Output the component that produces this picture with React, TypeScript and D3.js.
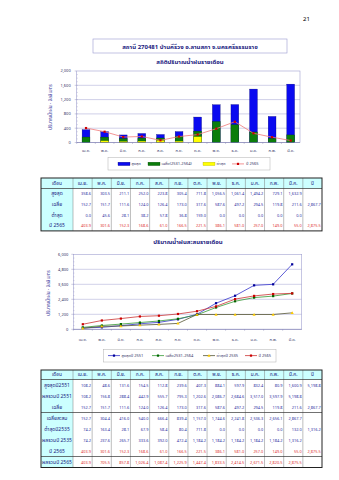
import React from 'react';
import * as d3 from 'd3';

const months = ['เม.ย.', 'พ.ค.', 'มิ.ย.', 'ก.ค.', 'ส.ค.', 'ก.ย.', 'ต.ค.', 'พ.ย.', 'ธ.ค.', 'ม.ค.', 'ก.พ.', 'มี.ค.'];

const maxRain = [358.6, 303.5, 211.1, 252.0, 223.8, 305.4, 711.8, 1056.5, 1061.4, 1494.2, 729.1, 1632.9];
const avgRain = [152.7, 151.7, 111.6, 124.0, 126.4, 173.0, 317.6, 587.6, 497.2, 294.5, 119.8, 211.6];
const minRain = [0.0, 45.6, 28.1, 38.2, 57.8, 36.8, 159.0, 0.0, 0.0, 0.0, 0.0, 0.0];
const rain2565 = [403.9, 301.6, 152.3, 168.6, 61.0, 166.5, 221.5, 386.1, 581.0, 257.0, 149.0, 55.0];
const avgTotal = 2867.7;
const total2565 = 2875.5;

const max2551 = [108.2, 48.6, 131.6, 154.5, 112.8, 239.6, 407.3, 884.1, 597.9, 832.4, 80.9, 1600.9];
const total2551 = 5198.8;
const cum2551 = [108.2, 156.8, 288.4, 442.9, 555.7, 795.3, 1202.6, 2086.7, 2684.6, 3517.0, 3597.9, 5198.8];
const cumAvg = [152.7, 304.4, 416.0, 540.0, 666.4, 839.4, 1157.0, 1744.6, 2241.8, 2536.3, 2656.1, 2867.7];
const min2535 = [74.2, 163.4, 28.1, 67.9, 58.4, 80.4, 711.8, 0.0, 0.0, 0.0, 0.0, 132.0];
const total2535 = 1316.2;
const cum2535 = [74.2, 237.6, 265.7, 333.6, 392.0, 472.4, 1184.2, 1184.2, 1184.2, 1184.2, 1184.2, 1316.2];
const cum2565 = [403.9, 705.5, 857.8, 1026.4, 1087.4, 1225.9, 1447.4, 1833.5, 2414.5, 2671.5, 2820.5, 2875.5];

const yTicks1 = [0, 400, 800, 1200, 1600, 2000];
const yTicks2 = [0, 1200, 2400, 3600, 4800, 6000];

const FONT = "Tahoma, 'Noto Sans Thai', 'Noto Serif Thai', 'Garuda', 'Loma', serif";
const NAVY = '#1a1a80';
const GRID = '#a0a0d0';
const fmt = d3.format(',.1f');

const tableHeader = ['เดือน', ...months, 'ปี'];

type Row = { label: string; values: number[]; total: number | null; color: string };

function Table({ top, headerH, rowH, rows, sepAfter }: { top: number; headerH: number; rowH: number; rows: Row[]; sepAfter: number[] }) {
  const left = 41, right = 322, labelW = 32;
  const colW = (right - left - labelW) / 13;
  const bottom = top + headerH + rowH * rows.length;
  const colX = (i: number) => left + labelW + i * colW;
  return (
    <g fontFamily={FONT}>
      <rect x={left} y={top} width={right - left} height={headerH} fill="#ccffff" />
      <rect x={left} y={top} width={labelW} height={bottom - top} fill="#ccffff" />
      {tableHeader.map((h, i) => (
        <text key={'h' + i} x={i === 0 ? left + labelW / 2 : colX(i - 1) + colW / 2} y={top + headerH / 2 + 1.6}
          textAnchor="middle" fontSize={4.8} fill={NAVY}>{h}</text>
      ))}
      {rows.map((r, ri) => {
        const cy = top + headerH + ri * rowH + rowH / 2 + 1.5;
        return (
          <g key={'r' + ri}>
            <text x={left + labelW / 2} y={cy} textAnchor="middle" fontSize={5} fill={NAVY}>{r.label}</text>
            {r.values.map((v, ci) => (
              <text key={ci} x={colX(ci) + colW - 1.2} y={cy} textAnchor="end" fontSize={3.9} fill={r.color}>{fmt(v)}</text>
            ))}
            {r.total !== null && (
              <text x={colX(12) + colW - 1.2} y={cy} textAnchor="end" fontSize={3.9} fill={r.color}>{fmt(r.total)}</text>
            )}
          </g>
        );
      })}
      {d3.range(1, 14).map(i => {
        const x = i === 0 ? left : colX(i - 1);
        return <line key={'v' + i} x1={x} x2={x} y1={top} y2={bottom} stroke="#7a7a7a" strokeWidth={0.5} />;
      })}
      <line x1={left} x2={right} y1={top + headerH} y2={top + headerH} stroke="#333" strokeWidth={0.7} />
      {sepAfter.map(k => {
        const y = top + headerH + (k + 1) * rowH;
        return <line key={'s' + k} x1={left} x2={right} y1={y} y2={y} stroke="#333" strokeWidth={0.7} />;
      })}
      <rect x={left} y={top} width={right - left} height={bottom - top} fill="none" stroke="#222" strokeWidth={1} />
    </g>
  );
}

export default function App() {
  // Chart 1
  const c1 = { l: 76.7, r: 300, t: 71, b: 142.5 };
  const x1 = d3.scaleBand<string>().domain(months).range([c1.l, c1.r]);
  const y1 = d3.scaleLinear().domain([0, 2000]).range([c1.b, c1.t]);
  const bw = x1.bandwidth() * 0.42;
  const cx1 = (m: string) => (x1(m) as number) + x1.bandwidth() / 2;
  const line1 = d3.line<number>().x((_, i) => cx1(months[i])).y(d => y1(d));

  // Chart 2
  const c2 = { l: 73.3, r: 301.7, t: 254.3, b: 329.3 };
  const x2 = d3.scalePoint<string>().domain(months).range([c2.l, c2.r]).padding(0.5);
  const y2 = d3.scaleLinear().domain([0, 6000]).range([c2.b, c2.t]);
  const line2 = d3.line<number>().x((_, i) => x2(months[i]) as number).y(d => y2(d));

  const series2 = [
    { data: cum2551, stroke: '#3333cc', mark: '#000099', shape: 'sq' },
    { data: cumAvg, stroke: '#339933', mark: '#006600', shape: 'sq' },
    { data: cum2535, stroke: '#555533', mark: '#ffcc00', shape: 'tri' },
    { data: cum2565, stroke: '#cc3333', mark: '#cc0000', shape: 'sq' },
  ];

  const marker = (shape: string, x: number, y: number, fill: string, s = 2.4, key?: any) =>
    shape === 'tri'
      ? <path key={key} d={`M${x},${y - 1.6}L${x + 1.6},${y + 1.2}L${x - 1.6},${y + 1.2}Z`} fill={fill} />
      : <rect key={key} x={x - s / 2} y={y - s / 2} width={s} height={s} fill={fill} />;

  const table1Rows: Row[] = [
    { label: 'สูงสุด', values: maxRain, total: null, color: '#2a2aa0' },
    { label: 'เฉลี่ย', values: avgRain, total: avgTotal, color: '#2a2aa0' },
    { label: 'ต่ำสุด', values: minRain, total: null, color: '#2a2aa0' },
    { label: 'ปี 2565', values: rain2565, total: total2565, color: '#e03030' },
  ];
  const table2Rows: Row[] = [
    { label: 'สูงสุดปี2551', values: max2551, total: total2551, color: '#2a2aa0' },
    { label: 'ผลรวมปี 2551', values: cum2551, total: null, color: '#2a2aa0' },
    { label: 'เฉลี่ย', values: avgRain, total: avgTotal, color: '#2a2aa0' },
    { label: 'เฉลี่ยสะสม', values: cumAvg, total: null, color: '#2a2aa0' },
    { label: 'ต่ำสุดปี2535', values: min2535, total: total2535, color: '#2a2aa0' },
    { label: 'ผลรวมปี 2535', values: cum2535, total: null, color: '#2a2aa0' },
    { label: 'ปี 2565', values: rain2565, total: total2565, color: '#e03030' },
    { label: 'ผลรวมปี 2565', values: cum2565, total: null, color: '#e03030' },
  ];

  return (
    <svg width={339} height={480} style={{ position: 'absolute', left: 0, top: 0, background: '#fff' }} fontFamily={FONT}>
      <rect width={339} height={480} fill="#fff" />
      <text x={303} y={21} fontSize={6} fill="#000">21</text>

      {/* Title box */}
      <rect x={93} y={39} width={194} height={14} fill="#fff" stroke="#9a9ad0" strokeWidth={0.6} />
      <text x={190} y={48.5} textAnchor="middle" fontSize={6} fontWeight="bold" fill={NAVY}>สถานี 270481 บ้านคีรีวง อ.ลานสกา จ.นครศรีธรรมราช</text>
      <text x={190} y={64} textAnchor="middle" fontSize={6} fontWeight="bold" fill={NAVY}>สถิติปริมาณน้ำฝนรายเดือน</text>

      {/* Chart 1 */}
      <rect x={c1.l} y={c1.t} width={c1.r - c1.l} height={c1.b - c1.t} fill="#fff" stroke={GRID} strokeWidth={0.6} />
      {yTicks1.slice(1, -1).map(t => (
        <line key={t} x1={c1.l} x2={c1.r} y1={y1(t)} y2={y1(t)} stroke={GRID} strokeWidth={0.5} />
      ))}
      {yTicks1.map(t => (
        <g key={'yt' + t}>
          <line x1={c1.l - 2} x2={c1.l} y1={y1(t)} y2={y1(t)} stroke="#8080b0" strokeWidth={0.4} />
          <text x={c1.l - 6} y={y1(t) + 1.4} textAnchor="end" fontSize={4} fill="#333366">{d3.format(',')(t)}</text>
        </g>
      ))}
      {d3.range(0, 2000, 100).map(t => (
        <line key={'mt' + t} x1={c1.l} x2={c1.l + 1.2} y1={y1(t)} y2={y1(t)} stroke="#8080b0" strokeWidth={0.3} />
      ))}
      {months.map((m, i) => (
        <g key={'b' + m}>
          <rect x={cx1(m) - bw / 2} y={y1(maxRain[i])} width={bw} height={c1.b - y1(maxRain[i])} fill="#0a0af0" stroke="#00006a" strokeWidth={0.3} />
          <rect x={cx1(m) - bw / 2} y={y1(avgRain[i])} width={bw} height={c1.b - y1(avgRain[i])} fill="#0b7d0b" stroke="#004000" strokeWidth={0.3} />
          <rect x={cx1(m) - bw / 2} y={y1(minRain[i])} width={bw} height={c1.b - y1(minRain[i])} fill="#ffff00" stroke="#a0a000" strokeWidth={0.3} />
          <text x={cx1(m)} y={152} textAnchor="middle" fontSize={4} fill="#333366">{m}</text>
          <line x1={x1(m) as number} x2={x1(m) as number} y1={c1.b} y2={c1.b + 1.5} stroke="#8080b0" strokeWidth={0.4} />
        </g>
      ))}
      <line x1={c1.l} x2={c1.r} y1={c1.b} y2={c1.b} stroke="#8080b0" strokeWidth={0.6} />
      <path d={line1(rain2565) || ''} fill="none" stroke="#f07878" strokeWidth={0.8} />
      {rain2565.map((v, i) => marker('sq', cx1(months[i]), y1(v), '#cc0000', 2.2, 'rm' + i))}
      <text transform={`translate(52,107) rotate(-90)`} textAnchor="middle" fontSize={4.6} fill="#4040a0">ปริมาณน้ำฝน - มิลลิเมตร</text>

      {/* Legend 1 */}
      <rect x={108} y={157.5} width={162} height={12.5} fill="#fff" stroke="#b0b0b0" strokeWidth={0.5} />
      <rect x={118} y={162.2} width={12} height={3.4} fill="#0a0af0" stroke="#00006a" strokeWidth={0.3} />
      <text x={131.5} y={165.3} fontSize={4} fill="#333366">สูงสุด</text>
      <rect x={148} y={162.2} width={12} height={3.4} fill="#0b7d0b" stroke="#004000" strokeWidth={0.3} />
      <text x={161.5} y={165.3} fontSize={4} fill="#333366">เฉลี่ย(2531-2564)</text>
      <rect x={203} y={162.2} width={12} height={3.4} fill="#ffff00" stroke="#a0a000" strokeWidth={0.3} />
      <text x={216.5} y={165.3} fontSize={4} fill="#333366">ต่ำสุด</text>
      <line x1={232} x2={244} y1={163.9} y2={163.9} stroke="#f07878" strokeWidth={0.8} />
      {marker('sq', 238, 163.9, '#cc0000', 2.2)}
      <text x={246} y={165.3} fontSize={4} fill="#333366">ปี 2565</text>

      {/* Table 1 */}
      <Table top={178} headerH={10.5} rowH={10.6} rows={table1Rows} sepAfter={[]} />

      {/* Chart 2 */}
      <text x={188} y={244} textAnchor="middle" fontSize={6} fontWeight="bold" fill={NAVY}>ปริมาณน้ำฝนสะสมรายเดือน</text>
      <rect x={c2.l} y={c2.t} width={c2.r - c2.l} height={c2.b - c2.t} fill="#fff" stroke={GRID} strokeWidth={0.6} />
      {yTicks2.slice(1, -1).map(t => (
        <line key={'g2' + t} x1={c2.l} x2={c2.r} y1={y2(t)} y2={y2(t)} stroke={GRID} strokeWidth={0.5} />
      ))}
      {yTicks2.map(t => (
        <g key={'y2' + t}>
          <line x1={c2.l - 2} x2={c2.l} y1={y2(t)} y2={y2(t)} stroke="#8080b0" strokeWidth={0.4} />
          <text x={c2.l - 5} y={y2(t) + 1.4} textAnchor="end" fontSize={4} fill="#333366">{d3.format(',')(t)}</text>
        </g>
      ))}
      {d3.range(0, 6000, 300).map(t => (
        <line key={'m2' + t} x1={c2.l} x2={c2.l + 1.2} y1={y2(t)} y2={y2(t)} stroke="#8080b0" strokeWidth={0.3} />
      ))}
      <line x1={c2.l} x2={c2.r} y1={c2.b} y2={c2.b} stroke="#8080b0" strokeWidth={0.6} />
      {months.map((m, i) => (
        <g key={'x2' + m}>
          <text x={x2(m) as number} y={341} textAnchor="middle" fontSize={4} fill="#333366">{m}</text>
          <line x1={(x2(m) as number) - x2.step() / 2} x2={(x2(m) as number) - x2.step() / 2} y1={c2.b} y2={c2.b + 1.5} stroke="#8080b0" strokeWidth={0.4} />
        </g>
      ))}
      {series2.map((s, si) => (
        <g key={'s' + si}>
          <path d={line2(s.data) || ''} fill="none" stroke={s.stroke} strokeWidth={0.8} />
          {s.data.map((v, i) => marker(s.shape, x2(months[i]) as number, y2(v), s.mark, 2.2, i))}
        </g>
      ))}
      <text transform={`translate(50,293) rotate(-90)`} textAnchor="middle" fontSize={4.6} fill="#4040a0">ปริมาณน้ำฝน - มิลลิเมตร</text>

      {/* Legend 2 */}
      <rect x={103.3} y={349.3} width={172.7} height={12.7} fill="#fff" stroke="#b0b0b0" strokeWidth={0.5} />
      {[
        { x: 108, label: 'สูงสุดปี 2551', s: series2[0] },
        { x: 152, label: 'เฉลี่ย2531-2564', s: series2[1] },
        { x: 203, label: 'ต่ำสุดปี 2535', s: series2[2] },
        { x: 245, label: 'ปี 2565', s: series2[3] },
      ].map((it, i) => (
        <g key={'l2' + i}>
          <line x1={it.x} x2={it.x + 12} y1={355.6} y2={355.6} stroke={it.s.stroke} strokeWidth={0.8} />
          {marker(it.s.shape, it.x + 6, 355.6, it.s.mark, 2.2)}
          <text x={it.x + 13.5} y={357} fontSize={4} fill="#333366">{it.label}</text>
        </g>
      ))}

      {/* Table 2 */}
      <Table top={370} headerH={9.5} rowH={11} rows={table2Rows} sepAfter={[2, 6]} />
    </svg>
  );
}
